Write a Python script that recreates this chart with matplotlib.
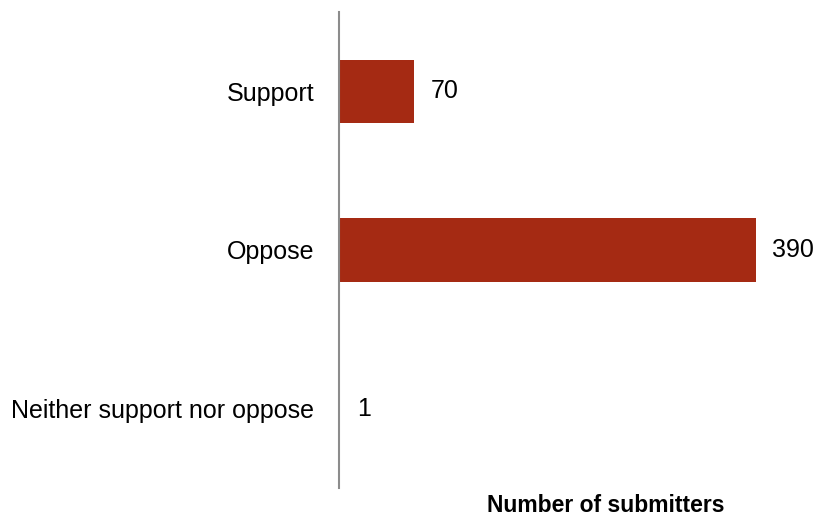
import matplotlib.pyplot as plt

# submissions by position
categories = ["Support", "Oppose", "Neither support nor oppose"]
counts = [70, 390, 1]

bar_color = "#A52A13"

plt.rcParams['font.family'] = ['Liberation Sans', 'DejaVu Sans']

fig = plt.figure(figsize=(8.16, 5.2), dpi=100)
ax = fig.add_axes([339 / 816, 1 - 488 / 520, (809 - 339) / 816, (488 - 12) / 520])

ax.barh(range(len(categories)), counts, height=0.4, color=bar_color)
ax.set_ylim(2.5, -0.5)
ax.set_xlim(0, 440)

ax.set_yticks(range(len(categories)))
ax.set_yticklabels(categories, fontsize=18)
ax.tick_params(axis='y', length=0, pad=18)
ax.set_xticks([])

for side in ["top", "right", "bottom"]:
    ax.spines[side].set_visible(False)
ax.spines["left"].set_color("#8c8c8c")
ax.spines["left"].set_linewidth(1.5)

for i, v in enumerate(counts):
    ax.annotate(str(v), (v, i), xytext=(12, 0), textcoords="offset points",
                va="center", ha="left", fontsize=18)

fig.text(606 / 816, 1 - 506 / 520, "Number of submitters", ha="center", va="center",
         fontsize=16.5, fontweight="bold")

fig.savefig("out.png", dpi=100)
